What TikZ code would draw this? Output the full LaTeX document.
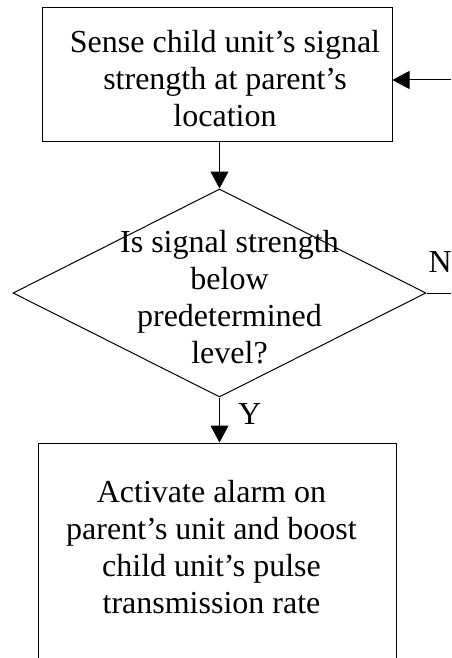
\documentclass[tikz,border=0pt]{standalone}
\usepackage{fontspec}
\setmainfont{Liberation Serif}
\usepackage{tikz}
\usetikzlibrary{positioning, arrows.meta, shapes.geometric}

\begin{document}
\begin{tikzpicture}[
    x=1pt, y=1pt,
    every node/.style={font=\fontsize{32}{37}\selectfont},
    box/.style={draw, line width=1pt, minimum width=350pt, minimum height=133pt, inner sep=0pt},
    decision/.style={draw, line width=1pt, diamond, minimum width=413pt, minimum height=208pt, inner sep=0pt},
    txt/.style={align=center, inner sep=0pt},
    arrow/.style={-{Triangle[length=17pt, width=18pt]}, line width=1pt}
]
\useasboundingbox (0,0) rectangle (451,-658);
\clip (0,0) rectangle (451,-658);
\node[box] (sense) at (217,-74.5) {};
\node[txt] (sensetxt) at ([shift={(8,-4)}]sense.center) {Sense child unit’s signal\\strength at parent’s\\location};
\node[decision, below=47pt of sense, xshift=2.5pt] (dec) {};
\node[txt] (dectxt) at ([shift={(10,-4)}]dec.center) {Is signal strength\\below\\predetermined\\level?};
\node[box, minimum width=358pt, minimum height=260pt, below=45pt of dec, xshift=-2.5pt] (alarm) {};
\node[txt, below=38pt of alarm.north, xshift=-5.5pt] (alarmtxt) {Activate alarm on\\parent’s unit and boost\\child unit’s pulse\\transmission rate};
\node[txt, anchor=south west] (nlbl) at ([shift={(2,20)}]dec.east) {N};
\node[txt, anchor=south west] (ylbl) at ([shift={(18.5,-27)}]dec.south) {Y};
\coordinate (loopin) at (451,-80);
\coordinate (loopout) at (451,-288);
\draw[arrow] (loopin) -- (loopin -| sense.east);
\draw[arrow] (sense.south -| dec.north) -- (dec.north);
\draw[line width=1pt] (dec.east) -- (dec.east -| loopout);
\draw[arrow] (dec.south) -- (dec.south |- alarm.north);
\end{tikzpicture}
\end{document}
